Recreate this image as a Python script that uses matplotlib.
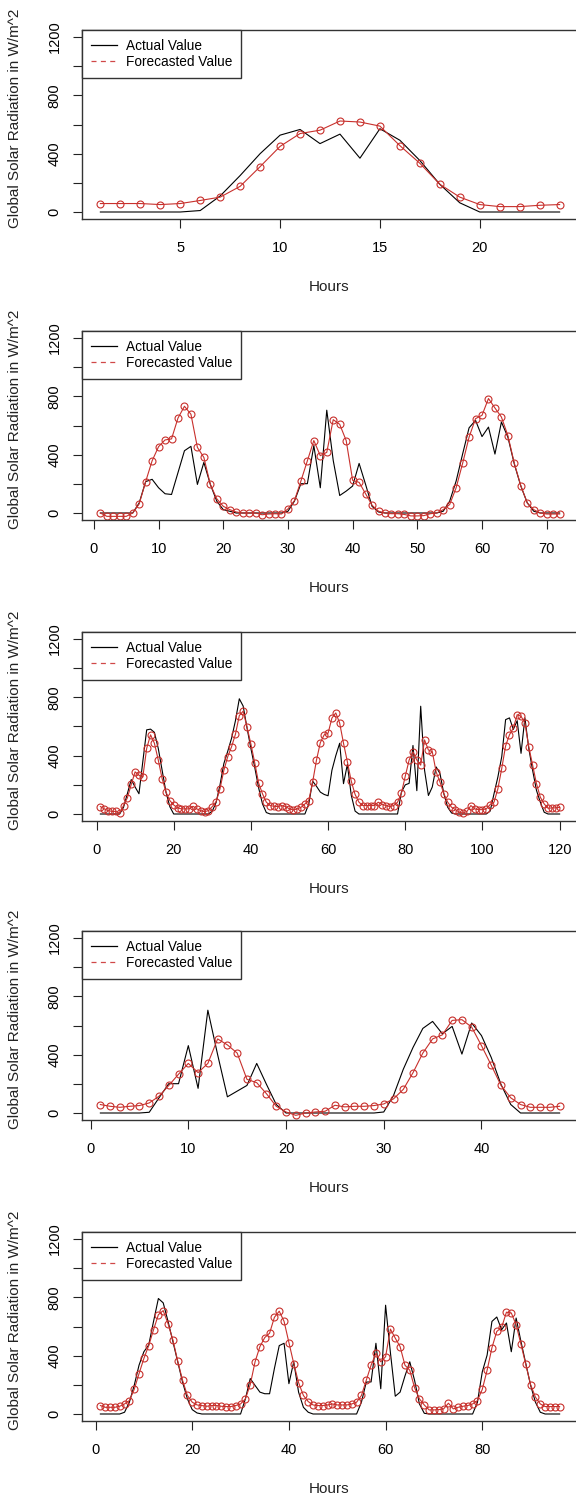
import numpy as np
import matplotlib
matplotlib.use("Agg")
import matplotlib.pyplot as plt
from matplotlib.lines import Line2D

plt.rcParams['font.family'] = ['Liberation Sans', 'DejaVu Sans']

# 1 day
actual_1 = [0, 0, 0, 0, 0, 10, 110, 250, 400, 527, 566, 469, 534, 369, 571, 492,
            353, 190, 63, 0, 0, 0, 0, 0]
forecast_1 = [58, 58, 58, 51, 58, 79, 102, 176, 311, 450, 538, 561, 624, 617, 589, 455,
              334, 190, 102, 51, 37, 37, 46, 51]

# 3 days
actual_2 = [0, 0, 0, 0, 0, 0, 69, 215, 231, 173, 132, 127, 277, 427, 457, 196, 347, 196, 81, 23, 12,
            0, 0, 0, 0, 0, 0, 0, 0,
            12, 81, 201, 201, 462, 173, 705, 360, 120, 150, 185, 340, 196, 46, 7,
            0, 0, 0, 0, 0, 0, 0, 0, 0,
            12, 81, 219, 404, 584, 635, 524, 589, 404, 624, 520, 335, 185, 69, 12,
            0, 0, 0, 0]
forecast_2 = [0, -23, -23, -23, -23, 0, 62, 215, 358, 455, 501, 508, 651, 732, 677, 450, 381, 196,
              97, 46, 23, 7, 0, 0, 0, -12, -7, -5, -7, 28, 85, 219, 358, 497, 393, 416, 640, 608,
              497, 224, 210, 132, 53, 12, 0, -5, -5, -10, -20, -20, -18, -5, 0, 23, 58, 173, 340,
              520, 647, 670, 785, 720, 658, 531, 340, 187, 69, 23, 0, -7, -7, -7]

# 5 days
actual_3 = [0, 0, 0, 0, 0, 0,
            46, 140, 236, 185, 139, 360, 577, 582, 560, 450, 300, 150, 50,
            0, 0, 0, 0, 0, 0, 0, 0, 0, 0,
            20, 80, 200, 346, 430, 520, 640, 790, 740, 590, 450, 320, 180, 70, 10,
            0, 0, 0, 0, 0, 0, 0, 0, 0, 0,
            69, 225, 190, 150, 134, 125, 300, 400, 485, 208, 340, 130, 20,
            0, 0, 0, 0, 0, 0, 0, 0, 0, 0, 0,
            150, 200, 210, 470, 160, 739, 300, 127, 185, 323, 277, 139, 46, 7,
            0, 0, 0, 0, 0, 0, 0, 0, 0,
            20, 139, 254, 393, 647, 659, 580, 640, 416, 659, 450, 300, 162, 81, 12,
            0, 0, 0, 0]
forecast_3 = [51, 35, 23, 18, 18, 5, 58, 111, 203, 289, 266, 254, 450, 543, 485, 370, 243, 150,
              92, 62, 42, 35, 35, 35, 53, 35, 23, 16, 23, 51, 85, 173, 300, 393, 462, 547, 675,
              705, 596, 480, 351, 213, 139, 81, 58, 53, 51, 58, 51, 35, 28, 35, 46, 69, 92, 219,
              370, 490, 543, 554, 658, 693, 624, 485, 358, 226, 134, 81, 58, 58, 58, 58, 81, 65,
              58, 51, 58, 81, 143, 259, 370, 427, 370, 335, 508, 439, 427, 289, 219, 139, 81, 46,
              30, 12, 7, 18, 58, 35, 30, 30, 35, 65, 81, 173, 312, 467, 543, 589, 681, 670, 624,
              462, 335, 208, 115, 69, 39, 42, 42, 46]

# 2 days
actual_4 = [0, 0, 0, 0, 0,
            5, 104, 201, 201, 462, 169, 705, 400, 111, 150, 189, 340, 196, 58,
            0, 0, 0, 0, 0, 0, 0, 0, 0, 0,
            7, 120, 300, 450, 580, 628, 543, 594, 404, 617, 531, 381, 196, 58,
            0, 0, 0, 0, 0]
forecast_4 = [58, 46, 39, 46, 51, 69, 115, 189, 266, 340, 277, 340, 508, 467, 411, 231, 208,
              132, 46, 7, -16, 0, 7, 12, 53, 42, 46, 46, 51, 62, 97, 162, 277, 411, 508, 536,
              635, 640, 589, 462, 328, 189, 104, 58, 39, 39, 39, 46]

# 4 days
actual_5 = [0, 0, 0, 0, 0,
            12, 81, 196, 335, 427, 473, 635, 792, 762, 635, 497, 358, 219, 104, 30, 7,
            0, 0, 0, 0, 0, 0, 0, 0, 0,
            104, 243, 196, 150, 139, 139, 312, 469, 485, 208, 358, 150, 46, 12,
            0, 0, 0, 0, 0, 0, 0, 0, 0, 0,
            81, 219, 220, 485, 173, 746, 420, 122, 150, 260, 358, 230, 69, 5,
            0, 0, 0, 0, 0, 0, 0, 0, 0, 0,
            81, 289, 404, 635, 665, 578, 624, 427, 658, 497, 346, 196, 81, 12,
            0, 0, 0, 0]
forecast_5 = [58, 46, 46, 46, 53, 69, 92, 169, 277, 381, 469, 578, 681, 709, 619, 508, 363,
              231, 127, 81, 62, 58, 53, 58, 58, 53, 51, 51, 58, 69, 104, 201, 358, 462, 524,
              554, 663, 705, 635, 490, 346, 215, 127, 85, 62, 58, 58, 62, 69, 62, 62, 62, 69,
              81, 127, 231, 335, 416, 358, 393, 582, 520, 462, 335, 300, 180, 104, 62, 28, 28,
              30, 35, 74, 35, 46, 53, 58, 69, 92, 169, 300, 455, 566, 594, 698, 693, 612, 478,
              340, 201, 115, 69, 51, 51, 51, 51]

xticks_1 = [5, 10, 15, 20]
xticks_2 = [0, 10, 20, 30, 40, 50, 60, 70]
xticks_3 = [0, 20, 40, 60, 80, 100, 120]
xticks_4 = [0, 10, 20, 30, 40]
xticks_5 = [0, 20, 40, 60, 80]

y_ticks = [0, 200, 400, 600, 800, 1000, 1200]
y_labels = ["0", "", "400", "", "800", "", "1200"]

panels = [(actual_1, forecast_1, xticks_1),
          (actual_2, forecast_2, xticks_2),
          (actual_3, forecast_3, xticks_3),
          (actual_4, forecast_4, xticks_4),
          (actual_5, forecast_5, xticks_5)]

W, H = 576, 1497
tops = [30, 331, 632, 931, 1232]
red = "#c8302c"

fig = plt.figure(figsize=(W / 100, H / 100), dpi=100)

for top, (actual, forecast, xt) in zip(tops, panels):
    ax = fig.add_axes([82 / W, 1 - (top + 189) / H, 496 / W, 189 / H])
    n = len(actual)
    hours = np.arange(1, n + 1)
    ax.plot(hours, actual, color="black", lw=0.8)
    ax.plot(hours, forecast, color=red, lw=0.8, marker="o", ms=5,
            mfc="none", mec=red, mew=0.8)

    # R style 4% padding on both axes
    pad = 0.04 * (n - 1)
    ax.set_xlim(1 - pad, n + pad)
    ax.set_ylim(-48, 1248)
    ax.set_xticks(xt)
    ax.set_yticks(y_ticks)
    ax.set_yticklabels(y_labels, rotation=90, va="center")
    ax.tick_params(axis="both", length=6.5, width=0.8, labelsize=10.5, color="#222222")
    ax.tick_params(axis="x", pad=9)
    ax.tick_params(axis="y", pad=8)
    for s in ax.spines.values():
        s.set_linewidth(1.0)
        s.set_color("#333333")

    handles = [Line2D([], [], color="black", lw=0.9),
               Line2D([], [], color="#d04848", lw=0.9, ls=(0, (4, 3.5)))]
    leg = ax.legend(handles, ["Actual Value", "Forecasted Value"], loc="upper left",
                    bbox_to_anchor=(0, 1), borderaxespad=0, fancybox=False,
                    framealpha=1, edgecolor="#333333", fontsize=9.8,
                    handlelength=1.9, handletextpad=0.7, borderpad=0.65,
                    labelspacing=0.15)
    leg.get_frame().set_linewidth(1.0)

    fig.text(15.5 / W, 1 - (top + 88) / H, "Global Solar Radiation in W/m^2",
             rotation=90, ha="center", va="center", fontsize=11, color="#222222")
    fig.text(329.5 / W, 1 - (top + 189 + 68) / H, "Hours",
             ha="center", va="center", fontsize=11, color="#222222")

fig.savefig("out.png", dpi=100, facecolor="white")
